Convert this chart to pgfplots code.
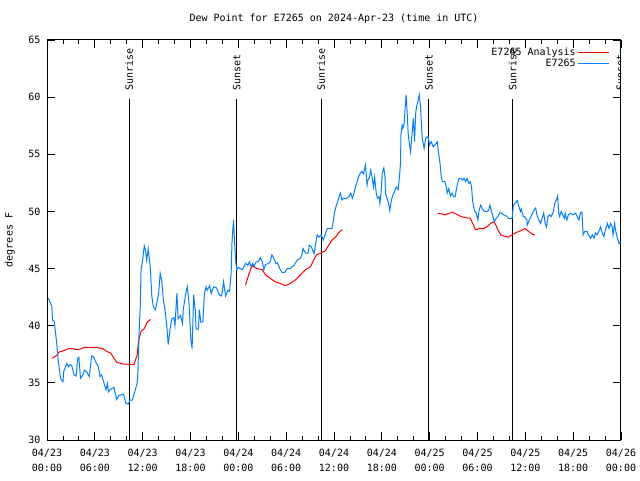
\documentclass[border=0pt]{standalone}
\usepackage{pgfplots}
\pgfplotsset{compat=1.18}
\usepackage{fontspec}
\setmainfont{DejaVu Sans Mono}

\definecolor{obsblue}{RGB}{0,128,255}
\definecolor{anared}{RGB}{255,0,0}

\begin{document}
\begin{tikzpicture}[x=1pt,y=1pt]
\fill[white] (0,0) rectangle (640,480);
\useasboundingbox (0,0) rectangle (640,480);
\fontsize{10}{12}\selectfont
\node at (334,461) {Dew Point for E7265 on 2024-Apr-23 (time in UTC)};
\node[rotate=90] at (10,240) {degrees F};
\begin{axis}[
    at={(47pt,40pt)}, anchor=south west,
    scale only axis, width=574pt, height=400pt,
    xmin=0, xmax=72, ymin=30, ymax=65,
    xtick={0,6,...,72},
    xticklabels={{04/23\\00:00},{04/23\\06:00},{04/23\\12:00},{04/23\\18:00},
                 {04/24\\00:00},{04/24\\06:00},{04/24\\12:00},{04/24\\18:00},
                 {04/25\\00:00},{04/25\\06:00},{04/25\\12:00},{04/25\\18:00},
                 {04/26\\00:00}},
    minor x tick num=2,
    ytick={30,35,...,65},
    tick align=inside,
    major tick length=8pt, minor tick length=4pt,
    every tick/.style={black, line width=0.8pt},
    axis line style={line width=1pt},
    /pgf/number format/assume math mode=true,
    tick label style={font=\fontsize{10}{15}\selectfont},
    xticklabel style={align=center, yshift=-6pt},
    yticklabel style={xshift=-3pt},
    unbounded coords=jump,
    legend style={draw=none, fill=none, at={(rel axis cs:0.986,0.99)},
        anchor=north east, font=\fontsize{10}{12}\selectfont,
        row sep=-2pt},
    legend cell align=right,
    legend plot pos=right,
    legend image code/.code={\path (0pt,0pt) -- (31pt,0pt);
        \draw[#1] (4pt,0pt) -- (31pt,0pt);},
]
% sunrise / sunset markers
\addplot[black, line width=1pt, forget plot] coordinates {
(10.3,30) (10.3,59.85) (10.3,nan)
(23.8,30) (23.8,59.85) (23.8,nan)
(34.4,30) (34.4,59.85) (34.4,nan)
(47.9,30) (47.9,59.85) (47.9,nan)
(58.4,30) (58.4,59.85) (58.4,nan)
(71.9,30) (71.9,59.85)
};
\node[rotate=90, anchor=west] at (axis cs:10.3,60.3) {Sunrise};
\node[rotate=90, anchor=west] at (axis cs:23.8,60.3) {Sunset};
\node[rotate=90, anchor=west] at (axis cs:34.4,60.3) {Sunrise};
\node[rotate=90, anchor=west] at (axis cs:47.9,60.3) {Sunset};
\node[rotate=90, anchor=west] at (axis cs:58.4,60.3) {Sunrise};
\node[rotate=90, anchor=west] at (axis cs:71.9,60.3) {Sunset};

% analysis
\addplot[anared, line width=1pt] coordinates {
(0.67,37.15)(1.2,37.4)(1.5,37.7)(2.05,37.8)(2.7,38.0)(3.2,38.0)(3.65,37.9)(4.15,37.95)
(4.65,38.1)(6.2,38.1)(7.0,38.0)(7.5,37.75)(8.0,37.6)(8.4,37.15)(8.75,36.8)(9.5,36.65)
(10.9,36.6)(11.3,37.4)(11.5,38.75)(11.8,39.5)(12.2,39.75)(12.6,40.35)(13.0,40.55)(13.1,nan)
(24.9,43.55)(25.3,44.45)(25.7,45.25)(26.35,45.0)(27.0,44.9)(27.4,44.45)(28.0,44.15)
(28.6,43.85)(29.25,43.7)(29.9,43.5)(30.5,43.7)(31.15,44.0)(31.8,44.45)(32.4,44.9)
(33.05,45.15)(33.45,45.75)(33.8,46.2)(34.3,46.35)(34.9,46.55)(35.35,47.05)(35.75,47.5)
(36.2,47.75)(36.6,48.15)(37.0,48.4)(37.1,nan)
(49.0,49.85)(49.4,49.8)(49.9,49.7)(50.45,49.85)(50.9,49.9)(51.4,49.75)(51.95,49.55)
(52.5,49.45)(53.1,49.4)(53.4,48.95)(53.75,48.4)(54.3,48.5)(54.8,48.5)(55.25,48.7)
(55.65,48.95)(56.1,49.1)(56.5,48.5)(56.9,47.95)(57.3,47.85)(57.9,47.75)(58.45,48.0)
(59.0,48.2)(59.4,48.3)(59.95,48.5)(60.5,48.2)(60.9,48.0)(61.2,47.95)
};
\addlegendentry{E7265 Analysis}

% observations
\addplot[obsblue, line width=1pt] coordinates {
(0.17,42.4)(0.6,41.7)(0.7,40.5)(0.9,40.4)(1.2,38.6)(1.4,37.0)(1.7,35.4)(2.0,35.1)
(2.1,36.0)(2.5,36.7)(2.7,36.4)(2.9,36.6)(3.1,36.5)(3.4,35.7)(3.65,35.6)(3.85,37.15)
(4.0,37.25)(4.2,35.4)(4.5,35.7)(4.7,36.1)(5.0,35.95)(5.3,35.55)(5.6,37.35)(5.8,37.3)
(6.1,36.85)(6.45,36.4)(6.65,35.55)(6.85,35.7)(7.1,35.1)(7.4,34.4)(7.6,34.95)(7.7,34.2)
(7.9,34.4)(8.4,34.6)(8.75,33.55)(9.0,33.9)(9.6,34.0)(9.9,33.2)(10.2,33.15)(10.4,33.5)
(10.7,33.5)(11.0,34.2)(11.3,34.95)(11.4,35.95)(11.55,39.3)(11.7,41.8)(11.8,45.0)(11.9,45.3)
(12.0,45.75)(12.2,47.0)(12.35,46.65)(12.5,45.75)(12.7,46.7)(12.95,45.15)(13.15,42.55)
(13.35,41.65)(13.6,41.4)(13.85,42.25)(14.0,42.8)(14.2,44.6)(14.4,43.9)(14.6,42.2)
(14.8,41.4)(15.0,40.2)(15.15,38.9)(15.2,38.35)(15.45,39.75)(15.65,40.6)(15.9,40.7)
(16.05,40.0)(16.3,42.85)(16.45,40.6)(16.75,40.9)(17.0,40.2)(17.1,41.5)(17.45,42.95)
(17.6,43.4)(17.8,42.1)(18.05,38.75)(18.2,38.0)(18.4,42.7)(18.6,41.4)(18.7,39.7)(19.0,39.7)
(19.1,41.4)(19.3,40.3)(19.55,40.35)(19.75,42.85)(19.95,43.4)(20.1,43.1)(20.4,43.5)
(20.6,42.8)(20.9,43.4)(21.3,43.3)(21.6,42.7)(21.9,42.6)(22.15,43.85)(22.4,42.6)(22.7,43.1)
(22.9,43.0)(23.1,44.6)(23.2,47.2)(23.3,48.4)(23.4,49.25)(23.55,47.0)(23.7,45.45)(23.8,44.9)
(24.0,45.1)(24.5,44.9)(24.9,45.45)(25.2,45.3)(25.4,45.6)(25.6,45.15)(25.8,45.45)(26.0,45.2)
(26.2,45.55)(26.55,45.65)(26.75,45.95)(27.0,45.6)(27.2,44.9)(27.4,45.35)(27.8,45.45)
(28.0,45.6)(28.2,46.2)(28.4,46.0)(28.7,45.45)(28.9,45.5)(29.2,45.0)(29.5,44.65)(29.8,44.65)
(30.1,45.0)(30.5,45.0)(31.0,45.3)(31.4,45.75)(31.8,45.9)(32.0,46.3)(32.1,46.75)(32.45,46.35)
(32.75,46.35)(32.9,47.05)(33.15,46.9)(33.5,46.3)(33.7,47.2)(33.9,47.95)(34.1,47.75)
(34.4,47.95)(34.65,47.5)(34.95,48.1)(35.1,48.4)(35.2,48.5)(35.75,48.5)(35.9,49.1)
(36.05,49.85)(36.3,50.55)(36.45,50.8)(36.7,51.45)(36.8,51.6)(37.0,51.0)(37.2,51.15)
(37.6,51.15)(37.85,51.3)(38.1,51.6)(38.3,51.15)(38.5,51.6)(38.7,52.15)(38.9,52.6)
(39.1,53.05)(39.3,53.35)(39.5,53.5)(39.7,53.3)(39.95,54.05)(40.15,52.3)(40.25,52.7)
(40.45,53.0)(40.6,53.6)(40.8,52.9)(40.95,52.15)(41.1,53.0)(41.3,51.6)(41.45,51.15)
(41.65,51.3)(41.75,50.7)(41.9,51.6)(42.05,53.35)(42.25,53.8)(42.4,53.0)(42.45,51.6)
(42.65,51.15)(42.85,50.7)(43.0,50.1)(43.2,51.0)(43.4,51.45)(43.6,51.75)(43.8,52.15)
(44.05,51.9)(44.25,53.35)(44.35,54.35)(44.4,56.7)(44.55,57.55)(44.65,57.3)(44.8,57.7)
(44.95,59.3)(45.05,60.2)(45.2,58.35)(45.3,56.85)(45.45,55.95)(45.6,55.2)(45.8,56.9)
(45.95,58.15)(46.1,56.1)(46.25,58.6)(46.35,59.15)(46.55,59.7)(46.7,60.2)(46.85,59.2)
(47.05,56.55)(47.3,55.5)(47.5,56.4)(47.8,56.55)(48.0,55.8)(48.2,56.1)(48.45,55.65)
(48.7,55.85)(48.95,56.1)(49.15,54.95)(49.3,54.2)(49.45,53.05)(49.6,52.6)(49.9,52.6)
(50.1,52.15)(50.2,51.6)(50.4,52.0)(50.6,51.35)(50.8,51.6)(51.0,51.3)(51.2,51.3)(51.45,52.3)
(51.7,52.9)(51.9,52.9)(52.1,52.75)(52.3,52.9)(52.5,52.6)(52.7,52.9)(52.9,52.45)(53.1,52.6)
(53.25,52.15)(53.4,50.85)(53.6,50.1)(53.85,49.85)(54.05,49.25)(54.2,50.1)(54.4,50.55)
(54.6,50.25)(54.85,50.0)(55.2,50.0)(55.4,50.1)(55.55,50.55)(55.75,50.0)(55.95,49.55)
(56.1,49.1)(56.35,49.4)(56.55,49.55)(56.8,49.9)(57.0,49.85)(57.3,49.7)(57.6,49.6)
(57.9,49.4)(58.35,49.4)(58.5,50.55)(58.7,50.7)(59.0,50.95)(59.2,50.4)(59.4,50.0)(59.5,50.2)
(59.75,49.55)(59.9,49.55)(60.2,49.25)(60.25,48.8)(60.5,49.25)(60.8,49.7)(61.0,50.0)
(61.3,50.3)(61.5,49.55)(61.7,49.25)(61.9,48.95)(62.1,49.4)(62.3,49.85)(62.5,48.95)
(62.65,48.65)(62.85,49.55)(63.05,49.7)(63.25,49.55)(63.5,49.95)(63.7,50.75)(63.9,51.0)
(64.05,51.35)(64.2,49.8)(64.3,49.55)(64.5,50.0)(64.9,49.4)(65.0,49.85)(65.2,49.25)
(65.4,49.7)(65.65,49.85)(66.0,49.7)(66.3,49.85)(66.5,49.55)(66.7,49.25)(66.95,49.95)
(67.1,49.95)(67.25,47.95)(67.45,48.25)(67.75,48.25)(67.9,47.95)(68.2,47.65)(68.4,47.95)
(68.6,47.65)(68.8,48.1)(69.0,47.95)(69.2,48.25)(69.45,48.65)(69.65,48.1)(69.85,47.8)
(70.05,48.4)(70.3,48.95)(70.5,48.5)(70.7,48.95)(70.9,48.65)(71.0,47.95)(71.2,48.95)
(71.3,48.4)(71.5,47.8)(71.75,47.2)(71.95,47.35)
};
\addlegendentry{E7265}
\end{axis}
\end{tikzpicture}
\end{document}
